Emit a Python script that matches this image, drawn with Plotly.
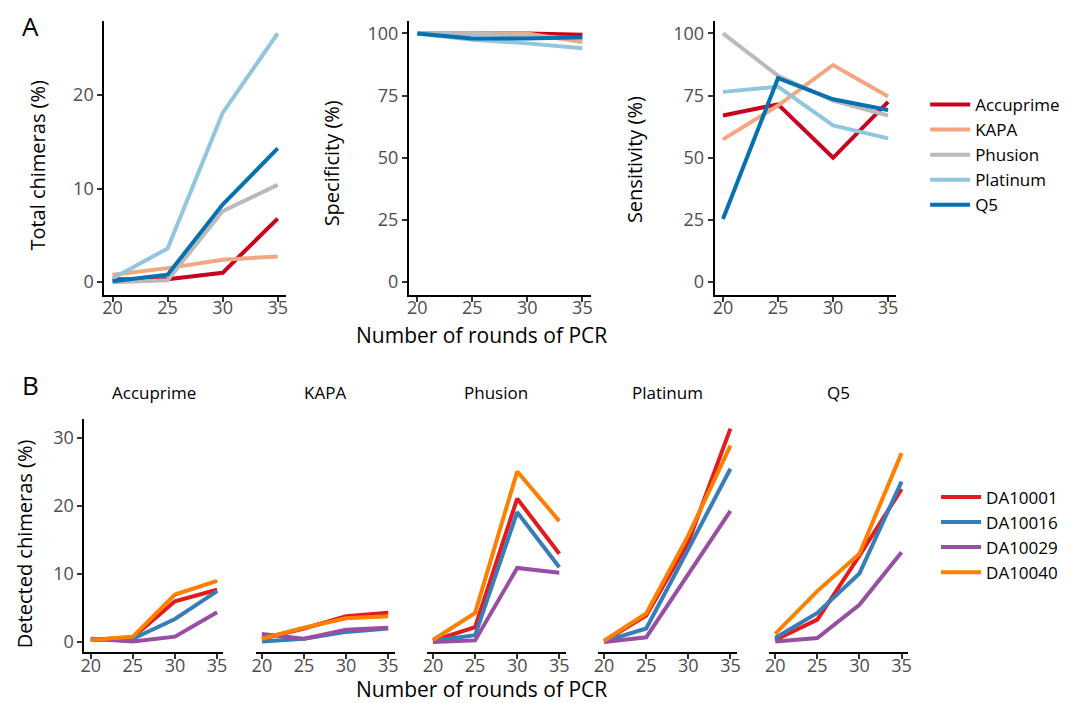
import plotly.graph_objects as go

rounds = [20, 25, 30, 35]
polymerases = ["Accuprime", "KAPA", "Phusion", "Platinum", "Q5"]
poly_colors = ["#CA0020", "#F4A582", "#BABABA", "#92C5DE", "#0571B0"]

total_chimeras = {
    "Accuprime": [0.3, 0.3, 1.0, 6.8],
    "KAPA": [0.8, 1.5, 2.4, 2.75],
    "Phusion": [0.0, 0.2, 7.6, 10.4],
    "Platinum": [0.4, 3.6, 18.1, 26.6],
    "Q5": [0.1, 0.8, 8.3, 14.3],
}
specificity = {
    "Accuprime": [100, 100, 100, 99.5],
    "KAPA": [100, 100, 100, 96.5],
    "Phusion": [100, 100, 99, 98],
    "Platinum": [100, 97.5, 96, 94],
    "Q5": [100, 98, 98, 98.5],
}
sensitivity = {
    "Accuprime": [67, 71.5, 50, 72.5],
    "KAPA": [57.4, 71, 87.3, 74.6],
    "Phusion": [100, 83, 73, 67],
    "Platinum": [76.5, 78.6, 63, 57.8],
    "Q5": [25.4, 82, 73.5, 69.2],
}

samples = ["DA10001", "DA10016", "DA10029", "DA10040"]
sample_colors = ["#E41A1C", "#377EB8", "#984EA3", "#FF7F00"]
detected = {
    "Accuprime": {"DA10001": [0.3, 0.7, 6.0, 7.7], "DA10016": [0.3, 0.5, 3.4, 7.5],
                  "DA10029": [0.5, 0.1, 0.8, 4.4], "DA10040": [0.3, 0.8, 7.0, 9.0]},
    "KAPA": {"DA10001": [0.5, 2.0, 3.8, 4.3], "DA10016": [0.1, 0.5, 1.5, 2.0],
             "DA10029": [1.2, 0.5, 1.8, 2.1], "DA10040": [0.5, 2.1, 3.5, 3.8]},
    "Phusion": {"DA10001": [0.2, 2.2, 21.1, 13.0], "DA10016": [0.2, 1.0, 19.1, 11.0],
                "DA10029": [0.0, 0.25, 10.9, 10.2], "DA10040": [0.3, 4.3, 25.1, 17.8]},
    "Platinum": {"DA10001": [0.1, 3.9, 14.7, 31.4], "DA10016": [0.1, 2.0, 13.7, 25.5],
                 "DA10029": [0.0, 0.7, 10.0, 19.3], "DA10040": [0.2, 4.2, 15.7, 28.9]},
    "Q5": {"DA10001": [0.3, 3.3, 12.7, 22.5], "DA10016": [0.6, 4.3, 10.1, 23.6],
           "DA10029": [0.1, 0.6, 5.5, 13.2], "DA10040": [1.2, 7.5, 13.0, 27.8]},
}

W, H = 1071, 703
FONT = "Open Sans"
TICK_FONT = dict(family=FONT, size=18, color="#4D4D4D")
LW = 4

fig = go.Figure()

def px_x(a, b):
    return [a / W, b / W]

def px_y(top, bottom):
    return [1 - bottom / H, 1 - top / H]

# Panel A traces
panelA = [("x", "y", total_chimeras), ("x2", "y2", specificity), ("x3", "y3", sensitivity)]
for i, (xa, ya, d) in enumerate(panelA):
    for p, c in zip(polymerases, poly_colors):
        fig.add_trace(go.Scatter(x=rounds, y=d[p], mode="lines", name=p,
                                 line=dict(color=c, width=LW),
                                 xaxis=xa, yaxis=ya, legend="legend",
                                 showlegend=(i == 0)))

# Panel B traces
for j, p in enumerate(polymerases):
    xa = "x%d" % (4 + j)
    ya = "y%d" % (4 + j)
    for s, c in zip(samples, sample_colors):
        fig.add_trace(go.Scatter(x=rounds, y=detected[p][s], mode="lines", name=s,
                                 line=dict(color=c, width=LW),
                                 xaxis=xa, yaxis=ya, legend="legend2",
                                 showlegend=(j == 0)))

def xaxis_cfg(dom):
    return dict(domain=dom, range=[19.25, 35.75], tickvals=[20, 25, 30, 35],
                showline=True, linecolor="black", linewidth=2, ticks="outside",
                ticklen=5, tickwidth=1.5, tickcolor="#333333", tickfont=TICK_FONT,
                ticklabelstandoff=-9,
                showgrid=False, zeroline=False, fixedrange=True)

def yaxis_cfg(dom, rng, tickvals, show=True):
    if show:
        return dict(domain=dom, range=rng, tickvals=tickvals,
                    showline=True, linecolor="black", linewidth=2, ticks="outside",
                    ticklen=5, tickwidth=1.5, tickcolor="#333333", tickfont=TICK_FONT,
                    showgrid=False, zeroline=False, fixedrange=True)
    return dict(domain=dom, range=rng, showline=False, showticklabels=False,
                ticks="", showgrid=False, zeroline=False, fixedrange=True)

yA = px_y(13, 287)
layout = {}
layout["xaxis"] = xaxis_cfg(px_x(93, 276))
layout["yaxis"] = yaxis_cfg(yA, [-1.33, 27.93], [0, 10, 20])
layout["xaxis2"] = xaxis_cfg(px_x(400, 583))
layout["yaxis2"] = yaxis_cfg(yA, [-5, 105], [0, 25, 50, 75, 100])
layout["xaxis3"] = xaxis_cfg(px_x(708, 891))
layout["yaxis3"] = yaxis_cfg(yA, [-5, 105], [0, 25, 50, 75, 100])
layout["xaxis"]["anchor"] = "y"
layout["xaxis2"]["anchor"] = "y2"
layout["xaxis3"]["anchor"] = "y3"
layout["yaxis"]["anchor"] = "x"
layout["yaxis2"]["anchor"] = "x2"
layout["yaxis3"]["anchor"] = "x3"

yB = px_y(411.7, 645)
for j in range(5):
    left = 73 + j * 172.4
    xn = "xaxis%d" % (4 + j)
    yn = "yaxis%d" % (4 + j)
    layout[xn] = xaxis_cfg(px_x(left, left + 140))
    layout[xn]["anchor"] = "y%d" % (4 + j)
    layout[yn] = yaxis_cfg(yB, [-1.47, 32.8], [0, 10, 20, 30], show=(j == 0))
    layout[yn]["anchor"] = "x%d" % (4 + j)

annotations = []
def ann(text, x, y, size, angle=0, color="black", xanchor="center", yanchor="middle"):
    annotations.append(dict(text=text, x=x / W, y=1 - y / H, xref="paper", yref="paper",
                            showarrow=False, textangle=angle, xanchor=xanchor, yanchor=yanchor,
                            font=dict(family=FONT, size=size, color=color)))

ann("A", 8, 18, 26, xanchor="left")
ann("B", 8, 378, 26, xanchor="left")
ann("Total chimeras (%)", 26, 157, 20, angle=-90)
ann("Specificity (%)", 322, 156, 20, angle=-90)
ann("Sensitivity (%)", 627, 152, 20, angle=-90)
ann("Number of rounds of PCR", 473, 327, 21)
ann("Detected chimeras (%)", 12, 536, 20, angle=-90)
ann("Number of rounds of PCR", 473, 682, 21)
for j, p in enumerate(polymerases):
    left = 73 + j * 172.4
    ann(p, left + 70, 385, 17)

fig.update_layout(
    width=W, height=H, margin=dict(l=0, r=0, t=0, b=0),
    paper_bgcolor="white", plot_bgcolor="white",
    font=dict(family=FONT, color="black"),
    annotations=annotations,
    legend=dict(x=920 / W, y=1 - 79 / H, xanchor="left", yanchor="top",
                font=dict(family=FONT, size=17, color="black"), tracegroupgap=0,
                bgcolor="rgba(0,0,0,0)", itemwidth=40),
    legend2=dict(x=931 / W, y=1 - 472 / H, xanchor="left", yanchor="top",
                 font=dict(family=FONT, size=17, color="black"), tracegroupgap=0,
                 bgcolor="rgba(0,0,0,0)", itemwidth=40),
    **layout,
)

fig.write_html("out.html")
